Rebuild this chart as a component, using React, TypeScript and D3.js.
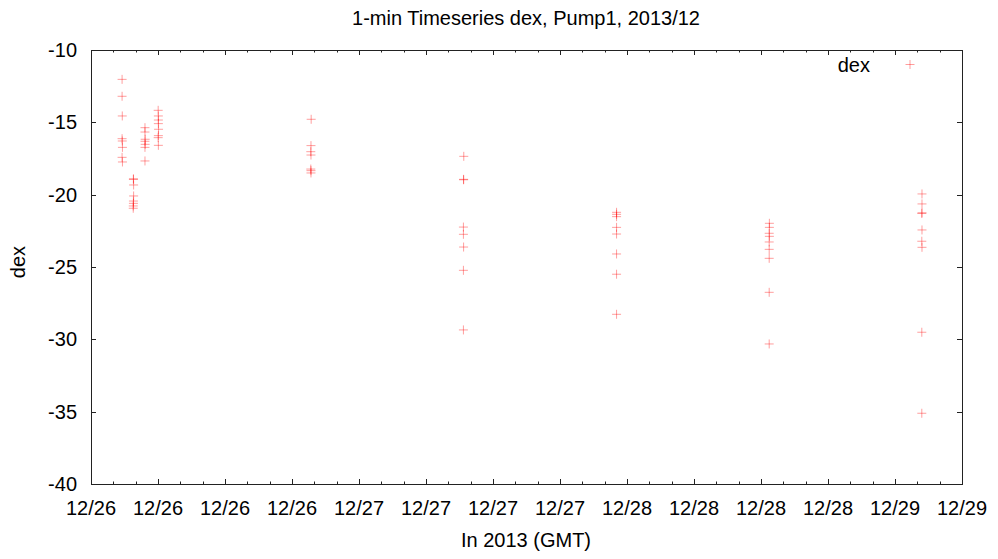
import React from "react";
import * as d3 from "d3";

const title = "1-min Timeseries dex, Pump1, 2013/12";
const xLabel = "In 2013 (GMT)";
const yLabel = "dex";
const seriesName = "dex";

const xStart = "2013-12-26T00:00:00Z";
const xEnd = "2013-12-29T06:00:00Z";
const yTicks = [-40, -35, -30, -25, -20, -15, -10];

const times: string[] = [
  "2013-12-26T02:47:00Z", "2013-12-26T02:47:00Z", "2013-12-26T02:48:00Z", "2013-12-26T02:47:00Z",
  "2013-12-26T02:48:00Z", "2013-12-26T02:49:00Z", "2013-12-26T02:47:00Z", "2013-12-26T02:49:00Z",
  "2013-12-26T03:48:00Z", "2013-12-26T03:48:00Z", "2013-12-26T03:49:00Z", "2013-12-26T03:49:00Z",
  "2013-12-26T03:48:00Z", "2013-12-26T03:48:00Z", "2013-12-26T03:47:00Z", "2013-12-26T03:47:00Z",
  "2013-12-26T04:50:00Z", "2013-12-26T04:50:00Z", "2013-12-26T04:51:00Z", "2013-12-26T04:50:00Z",
  "2013-12-26T04:51:00Z", "2013-12-26T04:50:00Z", "2013-12-26T04:50:00Z",
  "2013-12-26T06:01:00Z", "2013-12-26T06:02:00Z", "2013-12-26T06:02:00Z", "2013-12-26T06:02:00Z",
  "2013-12-26T06:03:00Z", "2013-12-26T06:02:00Z", "2013-12-26T06:01:00Z", "2013-12-26T06:02:00Z",
  "2013-12-26T19:43:00Z", "2013-12-26T19:42:00Z", "2013-12-26T19:41:00Z", "2013-12-26T19:42:00Z",
  "2013-12-26T19:41:00Z", "2013-12-26T19:42:00Z", "2013-12-26T19:42:00Z",
  "2013-12-27T09:23:00Z", "2013-12-27T09:22:00Z", "2013-12-27T09:22:00Z", "2013-12-27T09:21:00Z",
  "2013-12-27T09:21:00Z", "2013-12-27T09:22:00Z", "2013-12-27T09:21:00Z", "2013-12-27T09:21:00Z",
  "2013-12-27T23:04:00Z", "2013-12-27T23:04:00Z", "2013-12-27T23:04:00Z", "2013-12-27T23:04:00Z",
  "2013-12-27T23:04:00Z", "2013-12-27T23:04:00Z", "2013-12-27T23:04:00Z", "2013-12-27T23:04:00Z",
  "2013-12-28T12:45:00Z", "2013-12-28T12:45:00Z", "2013-12-28T12:44:00Z", "2013-12-28T12:45:00Z",
  "2013-12-28T12:44:00Z", "2013-12-28T12:44:00Z", "2013-12-28T12:44:00Z", "2013-12-28T12:44:00Z",
  "2013-12-28T12:44:00Z",
  "2013-12-29T02:25:00Z", "2013-12-29T02:25:00Z", "2013-12-29T02:25:00Z", "2013-12-29T02:24:00Z",
  "2013-12-29T02:25:00Z", "2013-12-29T02:24:00Z", "2013-12-29T02:25:00Z", "2013-12-29T02:24:00Z",
  "2013-12-29T02:24:00Z",
];

const values: number[] = [
  -12.03, -13.2, -14.56, -16.13, -16.29, -16.73, -17.42, -17.74,
  -18.9, -18.95, -19.33, -20.09, -20.44, -20.6, -20.78, -20.94,
  -15.37, -15.67, -16.17, -16.31, -16.52, -16.73, -17.67,
  -14.17, -14.56, -14.84, -15.09, -15.48, -15.92, -16.06, -16.59,
  -14.79, -16.61, -17.03, -17.26, -18.23, -18.34, -18.5,
  -17.35, -18.94, -18.97, -22.24, -22.74, -23.62, -25.23, -29.35,
  -21.22, -21.36, -21.52, -22.26, -22.72, -24.1, -25.5, -28.27,
  -21.98, -22.26, -22.67, -22.88, -23.27, -23.78, -24.4, -26.75,
  -30.32,
  -19.95, -20.64, -21.25, -21.3, -22.44, -23.22, -23.64, -29.51,
  -35.11,
];

const W = 998;
const H = 559;
const FONT = "'Liberation Sans', Arial, Helvetica, sans-serif";

export default function App() {
  const left = 91, right = 962, top = 50, bottom = 484;
  const x = d3.scaleUtc().domain([new Date(xStart), new Date(xEnd)]).range([left, right]);
  const y = d3.scaleLinear().domain([-40, -10]).range([bottom, top]);
  const majorTicks = x.ticks(d3.utcHour.every(6)!);
  const minorTicks = x.ticks(d3.utcHour.every(2)!).filter(t => t.getUTCHours() % 6 !== 0);
  const fmt = d3.utcFormat("%m/%d");
  const pts = values.map((v, i) => ({ x: x(new Date(times[i])), y: y(v) }));
  const arm = 4.5;
  const markColor = "rgba(255,0,0,0.38)";
  const plus = (cx: number, cy: number, key: any) => (
    <g key={key} stroke={markColor} strokeWidth={1}>
      <line x1={cx - arm} x2={cx + arm} y1={cy} y2={cy} />
      <line x1={cx} x2={cx} y1={cy - arm} y2={cy + arm} />
    </g>
  );
  const axisColor = "#222";
  return (
    <svg width={W} height={H} style={{ position: "absolute", left: 0, top: 0, background: "#fff" }} fontFamily={FONT}>
      <rect x={0} y={0} width={W} height={H} fill="#fff" />
      {/* ticks */}
      <g stroke={axisColor} strokeWidth={1}>
        {majorTicks.map((t, i) => {
          const px = Math.round(x(t)) + 0.5;
          return (
            <g key={"mx" + i}>
              <line x1={px} x2={px} y1={bottom} y2={bottom - 5} />
              <line x1={px} x2={px} y1={top} y2={top + 5} />
            </g>
          );
        })}
        {minorTicks.map((t, i) => {
          const px = Math.round(x(t)) + 0.5;
          return (
            <g key={"nx" + i}>
              <line x1={px} x2={px} y1={bottom} y2={bottom - 2.5} />
              <line x1={px} x2={px} y1={top} y2={top + 2.5} />
            </g>
          );
        })}
        {yTicks.map((v, i) => {
          const py = Math.round(y(v)) + 0.5;
          return (
            <g key={"y" + i}>
              <line x1={left} x2={left + 5} y1={py} y2={py} />
              <line x1={right} x2={right - 5} y1={py} y2={py} />
            </g>
          );
        })}
      </g>
      <rect x={left + 0.5} y={top + 0.5} width={right - left} height={bottom - top} fill="none" stroke={axisColor} strokeWidth={1} />
      {/* tick labels */}
      <g fontSize={20} fill="#000">
        {yTicks.map((v, i) => (
          <text key={"yl" + i} x={77} y={y(v) + 7} textAnchor="end">{v}</text>
        ))}
        {majorTicks.map((t, i) => (
          <text key={"xl" + i} x={x(t)} y={515} textAnchor="middle">{fmt(t)}</text>
        ))}
      </g>
      {/* data */}
      <g>{pts.map((p, i) => plus(p.x, p.y, i))}</g>
      {/* legend */}
      <text x={870} y={72} fontSize={20} textAnchor="end" fill="#000">{seriesName}</text>
      {plus(910, 64.5, "leg")}
      {/* titles */}
      <text x={526} y={25} fontSize={20} textAnchor="middle" fill="#000">{title}</text>
      <text x={526} y={547} fontSize={20} textAnchor="middle" fill="#000">{xLabel}</text>
      <text transform="translate(25,262) rotate(-90)" fontSize={20} textAnchor="middle" fill="#000">{yLabel}</text>
    </svg>
  );
}
